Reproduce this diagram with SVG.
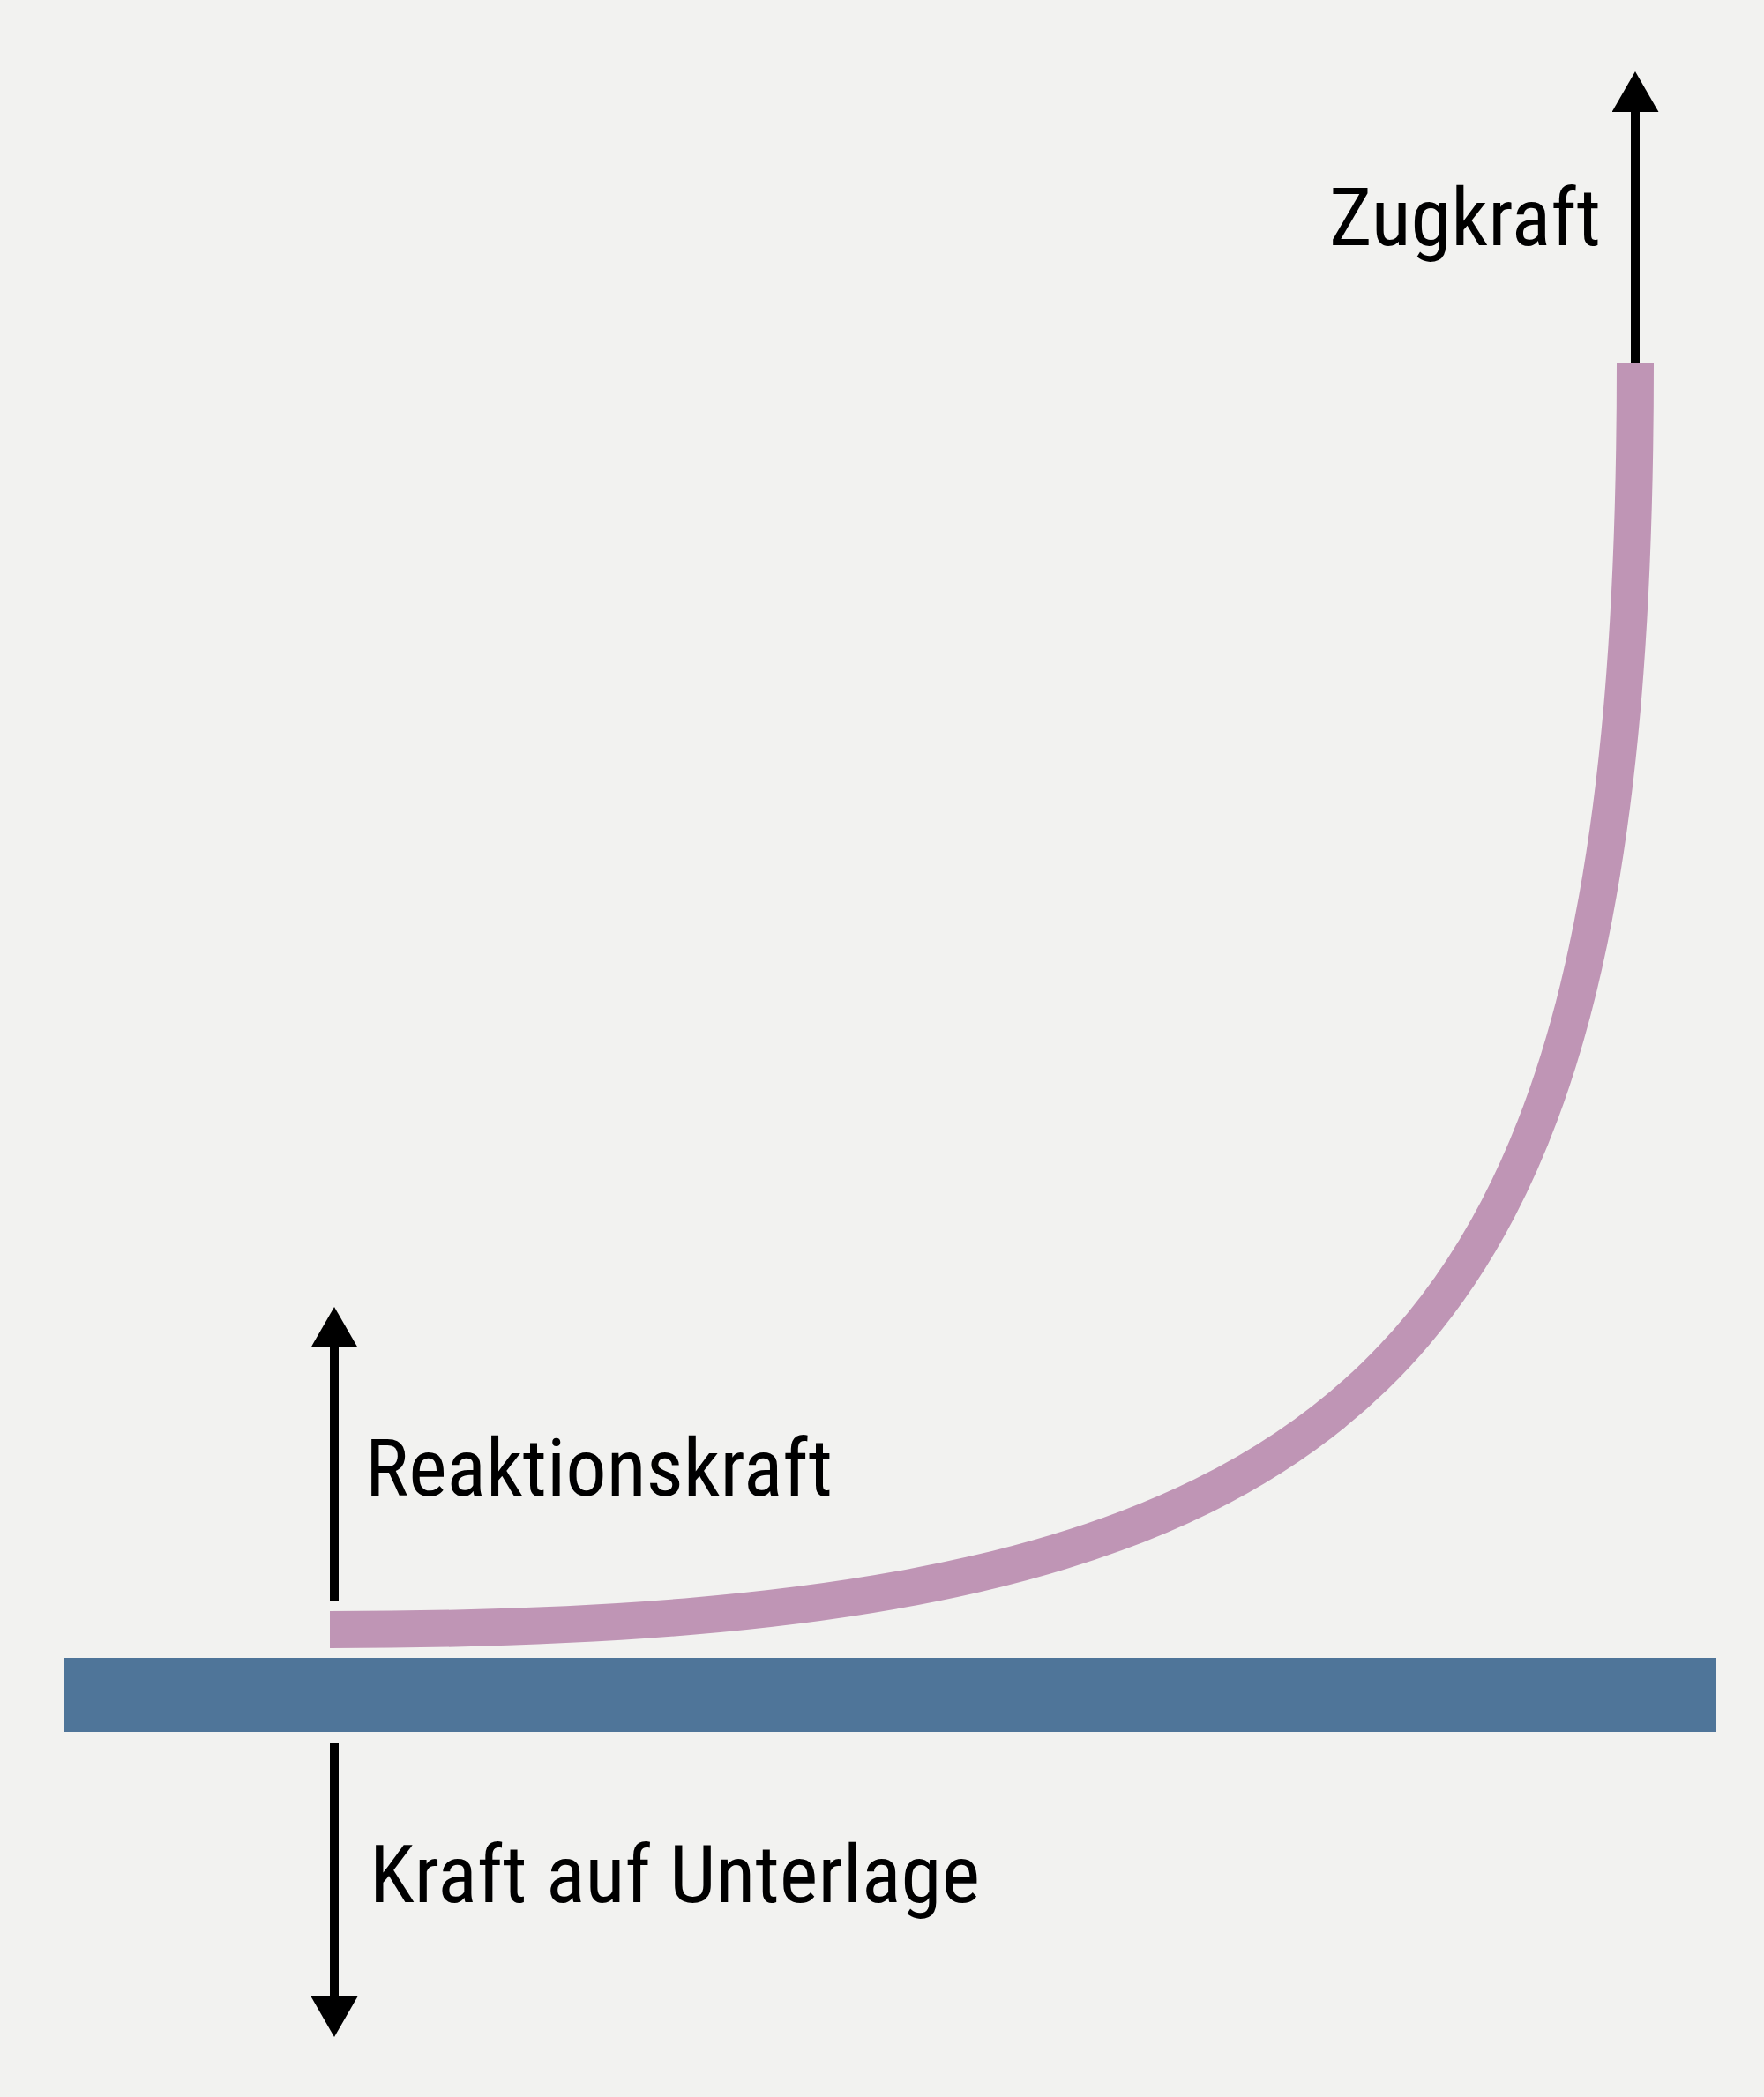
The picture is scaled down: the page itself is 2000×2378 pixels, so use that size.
<svg xmlns="http://www.w3.org/2000/svg" width="2000" height="2378" viewBox="0 0 2000 2378">
<defs>
<style>
.lbl{font-family:"Roboto Condensed",Roboto,"Liberation Sans",sans-serif;font-size:91px;fill:#000}
.arr{stroke:#000;stroke-width:10;fill:none}
</style>
<marker id="head" viewBox="0 0 46 53" refX="1" refY="26.5" markerWidth="46" markerHeight="53" markerUnits="userSpaceOnUse" orient="auto">
<path d="M0,0 L46,26.5 L0,53 Z" fill="#000"/>
</marker>
</defs>
<rect x="0" y="0" width="2000" height="2378" fill="#f2f2f0"/>
<g id="unterlage">
<rect x="73" y="1880" width="1873" height="84" fill="#4f7599"/>
</g>
<g id="band">
<path d="M1854,412 C1854,1560 1560,1848 374,1848" fill="none" stroke="#bf95b5" stroke-width="42"/>
</g>
<g id="connectors">
<line class="arr" x1="1854" y1="412" x2="1854" y2="126" marker-end="url(#head)"/>
<line class="arr" x1="379" y1="1816" x2="379" y2="1527" marker-end="url(#head)"/>
<line class="arr" x1="379" y1="1976" x2="379" y2="2265" marker-end="url(#head)"/>
</g>
<g id="label-zugkraft">
<text class="lbl" x="1507" y="278" textLength="308" lengthAdjust="spacingAndGlyphs">Zugkraft</text>
</g>
<g id="label-reaktionskraft">
<text class="lbl" x="414" y="1696" textLength="530" lengthAdjust="spacingAndGlyphs">Reaktionskraft</text>
</g>
<g id="label-unterlage">
<text class="lbl" x="419" y="2157" textLength="692" lengthAdjust="spacingAndGlyphs">Kraft auf Unterlage</text>
</g>
</svg>
